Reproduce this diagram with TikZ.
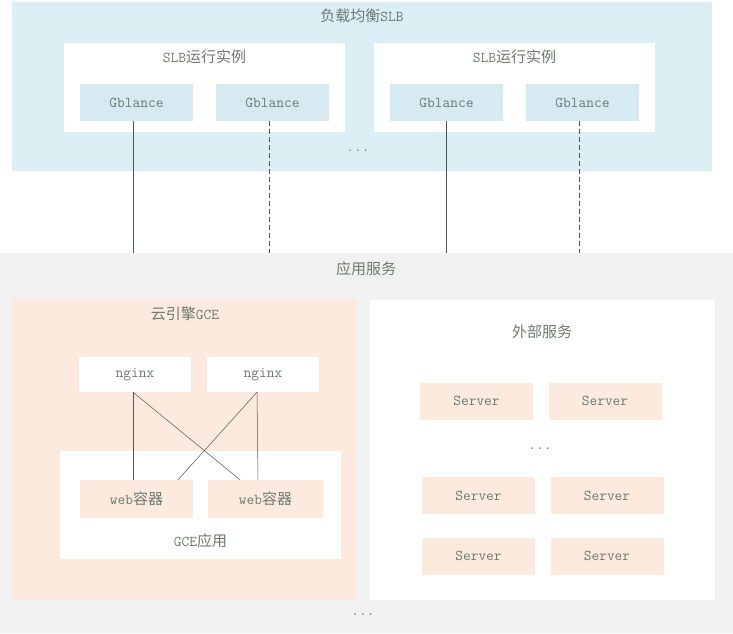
\documentclass[tikz,border=0pt]{standalone}
\usepackage{fontspec}
\newfontfamily\cjk{Noto Sans CJK SC}
\begin{document}
\begin{tikzpicture}[x=1pt,y=-1pt,
  every node/.style={inner sep=0pt, text=txt},
  lbl/.style={font=\fontsize{15}{17}\selectfont\ttfamily},
  panel/.style={draw=none, fill=#1},
  link/.style={draw=wire, line width=0.7pt},
  dlink/.style={link, dash pattern=on 5pt off 3pt}]
\definecolor{txt}{HTML}{6E7A72}
\definecolor{wire}{HTML}{4D5A52}
\definecolor{slbblue}{HTML}{DAEEF3}
\definecolor{gbblue}{HTML}{D5EBF1}
\definecolor{peach}{HTML}{FCEADE}
\definecolor{appgray}{HTML}{F1F1F1}
\useasboundingbox (0,0) rectangle (733,633);
\fill[white] (0,0) rectangle (733,633);

% load-balancer layer
\node[panel=slbblue, minimum width=700pt, minimum height=169pt] (slb) at (362,86.5) {};
\node[lbl] (slbt) at (362,16) {{\cjk 负载均衡}SLB};
\node[panel=white, minimum width=281pt, minimum height=89pt] (inst1) at (204.5,87.5) {};
\node[panel=white, minimum width=281pt, minimum height=89pt] (inst2) at (514.5,87.5) {};
\node[lbl] (inst1t) at (204.5,57) {SLB{\cjk 运行实例}};
\node[lbl] (inst2t) at (514.5,57) {SLB{\cjk 运行实例}};
\foreach \n/\x in {g1/136.5, g2/272.5, g3/446.5, g4/582.5}
  \node[panel=gbblue, lbl, minimum width=113pt, minimum height=37pt] (\n) at (\x,102.5) {Gblance};
\node[lbl] (slbdots) at (358,151) {...};

% application layer
\node[panel=appgray, minimum width=733pt, minimum height=380pt] (app) at (366.5,443) {};
\node[lbl] (appt) at (366,269) {{\cjk 应用服务}};

% cloud engine
\node[panel=peach, minimum width=345pt, minimum height=301pt] (gce) at (184.5,449.5) {};
\node[lbl] (gcet) at (185,314) {{\cjk 云引擎}GCE};
\node[panel=white, lbl, minimum width=112pt, minimum height=35pt] (ng1) at (135,374.5) {nginx};
\node[panel=white, lbl, minimum width=112pt, minimum height=35pt] (ng2) at (263,374.5) {nginx};
\node[panel=white, minimum width=281pt, minimum height=108pt] (gapp) at (200.5,505) {};
\node[lbl] (gappt) at (200.5,541) {GCE{\cjk 应用}};
\node[panel=peach, lbl, minimum width=113pt, minimum height=38pt] (web1) at (136.5,499) {web{\cjk 容器}};
\node[panel=peach, lbl, minimum width=115pt, minimum height=38pt] (web2) at (265.5,499) {web{\cjk 容器}};

% external services
\node[panel=white, minimum width=345pt, minimum height=300pt] (ext) at (542.5,450) {};
\node[lbl] (extt) at (542,332) {{\cjk 外部服务}};
\foreach \n/\x/\y in {s1/476.5/401, s2/605/401, s3/478.5/495.5, s4/607/495.5, s5/478.5/556, s6/607/556}
  \node[panel=peach, lbl, minimum width=113pt, minimum height=37pt] (\n) at (\x,\y) {Server};
\node[lbl] (extdots) at (540,449) {...};
\node[lbl] (appdots) at (363,615) {...};

% SLB instances down to the application layer
\draw[link]  ([xshift=-3.5pt]g1.south) -- ([xshift=-3.5pt]g1.south |- app.north);
\draw[dlink] ([xshift=-3.5pt]g2.south) -- ([xshift=-3.5pt]g2.south |- app.north);
\draw[link]  ([xshift=-0.5pt]g3.south) -- ([xshift=-0.5pt]g3.south |- app.north);
\draw[dlink] ([xshift=-3.5pt]g4.south) -- ([xshift=-3.5pt]g4.south |- app.north);

% nginx to web containers
\draw[link, line width=0.5pt] ([xshift=-2pt]ng1.south) -- ([xshift=-3.5pt]web1.north);
\draw[link, line width=0.5pt] ([xshift=-2pt]ng1.south) -- ([xshift=-25.5pt]web2.north);
\draw[link, line width=0.5pt] ([xshift=-6pt]ng2.south) -- ([xshift=41.5pt]web1.north);
\draw[link, line width=0.5pt] ([xshift=-6pt]ng2.south) -- ([xshift=-7.5pt]web2.north);
\end{tikzpicture}
\end{document}
